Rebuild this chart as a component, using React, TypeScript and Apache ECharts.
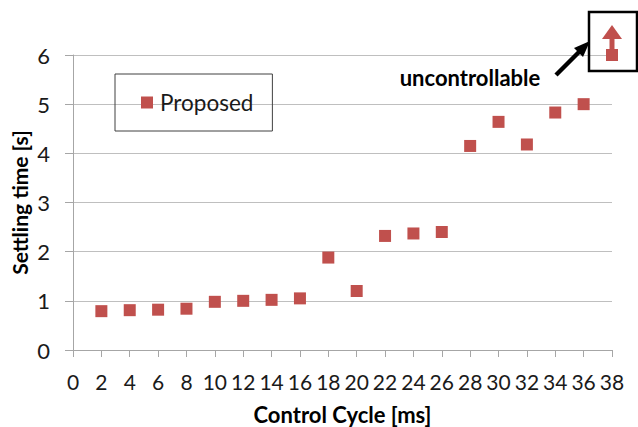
import React, { useEffect, useRef } from "react";
import * as echarts from "echarts";

const cycles = [2, 4, 6, 8, 10, 12, 14, 16, 18, 20, 22, 24, 26, 28, 30, 32, 34, 36];
const settling = [0.79, 0.81, 0.82, 0.84, 0.98, 1.0, 1.02, 1.05, 1.88, 1.2, 2.32, 2.37, 2.4, 4.15, 4.64, 4.18, 4.83, 5.0];
const uncontrollableCycle = [38];
const uncontrollableValue = [6];
const seriesName = "Proposed";
const annotationText = "uncontrollable";

const RED = "#C0504D";
const FONT = "Lato, 'Noto Sans', sans-serif";

export default function App() {
  const ref = useRef<HTMLDivElement>(null);
  useEffect(() => {
    const chart = echarts.init(ref.current!, null, { renderer: "svg" });
    const option: any = {
      animation: false,
      backgroundColor: "#fff",
      textStyle: { fontFamily: FONT },
      grid: { left: 73, right: 26, top: 55, bottom: 77, containLabel: false, outerBoundsMode: "none" },
      legend: {
        left: 115,
        top: 74,
        orient: "horizontal",
        padding: [17, 19, 17, 26],
        borderColor: "#404040",
        borderWidth: 1,
        borderRadius: 0,
        itemWidth: 12,
        itemHeight: 12,
        itemGap: 8,
        textStyle: { fontSize: 22.5, color: "#1a1a1a", fontFamily: FONT, padding: [0, 0, 0, 2] },
        data: [{ name: seriesName, icon: "rect", itemStyle: { color: RED, opacity: 1 } }],
      },
      xAxis: {
        type: "value",
        min: 0,
        max: 38,
        interval: 2,
        name: "Control Cycle [ms]",
        nameLocation: "middle",
        nameGap: 53,
        nameMoveOverlap: false,
        nameTextStyle: { fontSize: 22, fontWeight: "bold", color: "#000", fontFamily: FONT },
        axisLine: { show: true, lineStyle: { color: "#a6a6a6", width: 1 } },
        axisTick: { show: true, length: 7, lineStyle: { color: "#a6a6a6" } },
        axisLabel: { fontSize: 21, color: "#1a1a1a", margin: 21, fontFamily: FONT },
        splitLine: { show: false },
      },
      yAxis: {
        type: "value",
        min: 0,
        max: 6,
        interval: 1,
        name: "Settling time [s]",
        nameLocation: "middle",
        nameGap: 43,
        nameMoveOverlap: false,
        nameTextStyle: { fontSize: 21, fontWeight: "bold", color: "#000", fontFamily: FONT },
        axisLine: { show: true, lineStyle: { color: "#a6a6a6", width: 1 } },
        axisTick: { show: true, length: 8, lineStyle: { color: "#a6a6a6" } },
        axisLabel: { fontSize: 22, color: "#1a1a1a", margin: 23, fontFamily: FONT },
        splitLine: { show: true, lineStyle: { color: "#bfbfbf", width: 1 } },
      },
      series: [
        {
          name: seriesName,
          type: "scatter",
          symbol: "rect",
          symbolSize: 12,
          itemStyle: { color: RED, opacity: 1 },
          data: cycles.map((c, i) => [c, settling[i]]),
        },
        {
          name: "uncontrollable",
          type: "scatter",
          symbol: "rect",
          symbolSize: 12,
          clip: false,
          itemStyle: { color: RED, opacity: 1 },
          data: uncontrollableCycle.map((c, i) => [c, uncontrollableValue[i]]),
        },
      ],
    };
    chart.setOption(option);

    const p = chart.convertToPixel({ gridIndex: 0 }, [uncontrollableCycle[0], uncontrollableValue[0]]) as number[];
    const px = p[0];
    const py = p[1];
    chart.setOption({
      graphic: [
        {
          type: "rect",
          shape: { x: px - 23, y: py - 43, width: 48, height: 59 },
          style: { fill: "none", stroke: "#000", lineWidth: 2.5 },
          z: 10,
        },
        // red up arrow
        {
          type: "rect",
          shape: { x: px - 2.5, y: py - 20, width: 5, height: 14 },
          style: { fill: RED },
          z: 10,
        },
        {
          type: "polygon",
          shape: { points: [[px, py - 30], [px - 10, py - 16], [px + 10, py - 16]] },
          style: { fill: RED },
          z: 10,
        },
        // black pointer arrow
        {
          type: "line",
          shape: { x1: px - 56, y1: py + 20, x2: px - 31, y2: py - 5 },
          style: { stroke: "#000", lineWidth: 4.5 },
          z: 10,
        },
        {
          type: "polygon",
          shape: { points: [[px - 22, py - 14], [px - 38, py - 7], [px - 29, py + 2]] },
          style: { fill: "#000" },
          z: 10,
        },
        {
          type: "text",
          x: px - 142,
          y: py + 22,
          style: {
            text: annotationText,
            fontSize: 22,
            fontWeight: "bold",
            fill: "#000",
            fontFamily: FONT,
            align: "center",
            verticalAlign: "middle",
          },
          z: 10,
        },
      ],
    });
    return () => chart.dispose();
  }, []);
  return <div ref={ref} style={{ position: "absolute", left: 0, top: 0, width: 638, height: 427 }} />;
}
